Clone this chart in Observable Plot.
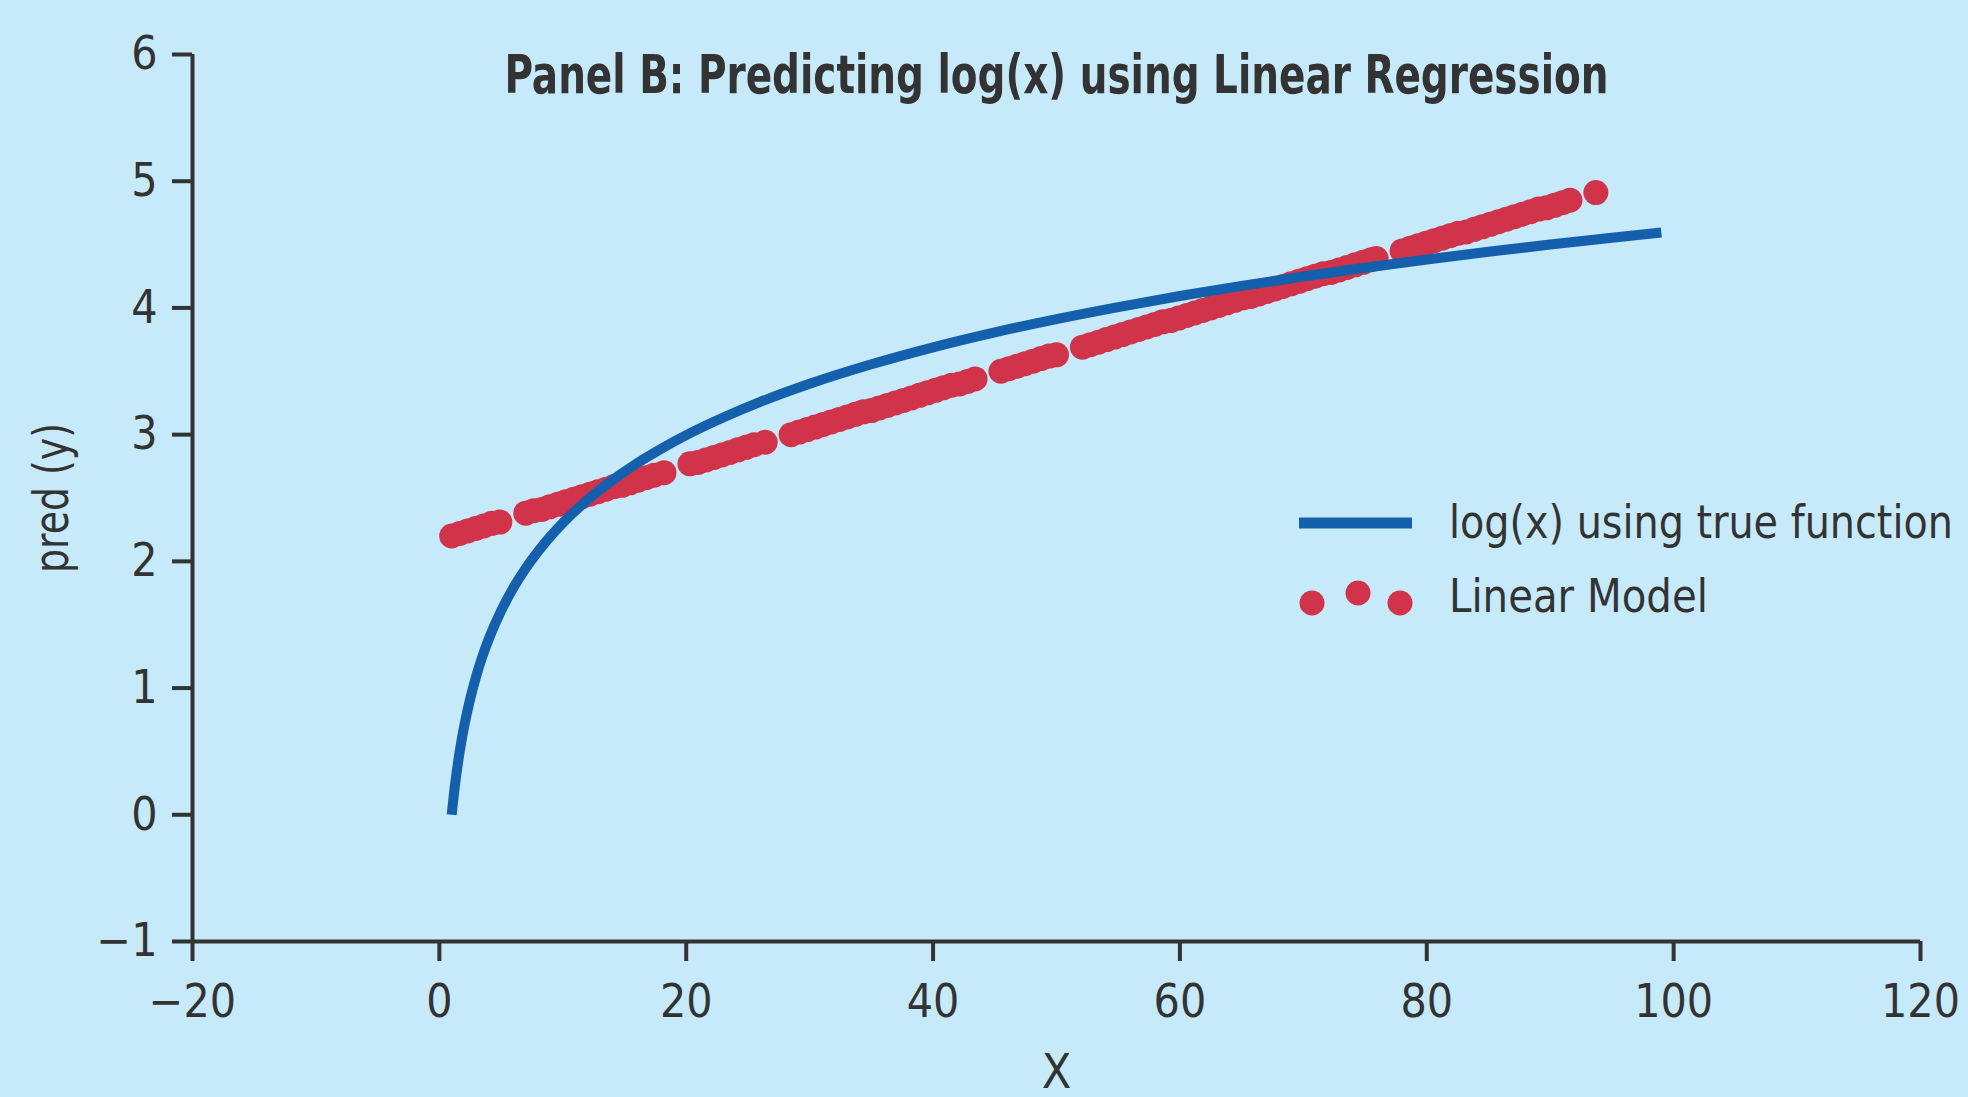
<!DOCTYPE html>
<html>
<head>
<meta charset="utf-8">
<script src="https://cdn.jsdelivr.net/npm/d3@7"></script>
<script src="https://cdn.jsdelivr.net/npm/@observablehq/plot@0.6"></script>
<style>
  html, body { margin: 0; padding: 0; background: #c6eafa; }
  #chart { position: relative; width: 1968px; height: 1097px; overflow: hidden; }
</style>
</head>
<body>
<div id="chart"></div>
<script>
// ---- Data ----
const titleText = "Panel B: Predicting log(x) using Linear Regression";
const xLabel = "X";
const yLabel = "pred (y)";
const xTicks = [-20, 0, 20, 40, 60, 80, 100, 120];
const yTicks = [-1, 0, 1, 2, 3, 4, 5, 6];

// true function curve log(x)
const trueX = [1, 1.1, 1.25, 1.5, 1.75, 2, 2.5, 3, 3.5, 4, 5, 6, 7, 8, 9, 10, 12, 14, 16, 18, 20, 23, 26, 30, 35, 40, 45, 50, 55, 60, 65, 70, 75, 80, 85, 90, 95, 99];
const trueY = [0, 0.095, 0.223, 0.405, 0.560, 0.693, 0.916, 1.099, 1.253, 1.386, 1.609, 1.792, 1.946, 2.079, 2.197, 2.303, 2.485, 2.639, 2.773, 2.890, 2.996, 3.135, 3.258, 3.401, 3.555, 3.689, 3.807, 3.912, 4.007, 4.094, 4.174, 4.248, 4.317, 4.382, 4.443, 4.500, 4.554, 4.595];

// linear model predictions (dots)
const modelX = [
  1, 1.65, 2.3, 2.95, 3.6, 4.25, 4.9,
  7, 7.65, 8.3, 8.95, 9.6, 10.25, 10.9, 11.55, 12.2, 12.85, 13.5, 14.15, 14.8, 15.45, 16.1, 16.75, 17.4, 18.2,
  20.3, 20.95, 21.6, 22.25, 22.9, 23.55, 24.2, 24.85, 25.5, 26.4,
  28.5, 29.15, 29.8, 30.45, 31.1, 31.75, 32.4, 33.05, 33.7, 34.35, 35, 35.65, 36.3, 36.95, 37.6, 38.25, 38.9, 39.55, 40.2, 40.85, 41.5, 42.15, 42.8, 43.4,
  45.5, 46.15, 46.8, 47.45, 48.1, 48.75, 49.4, 50,
  52.1, 52.75, 53.4, 54.05, 54.7, 55.35, 56, 56.65, 57.3, 57.95, 58.6, 59.25, 59.9, 60.55, 61.2, 61.85, 62.5, 63.15, 63.8, 64.45, 65.1, 65.75, 66.4, 67.05, 67.7, 68.35, 69, 69.65, 70.3, 70.95, 71.6, 72.25, 72.9, 73.55, 74.2, 74.85, 75.5, 75.9,
  78, 78.65, 79.3, 79.95, 80.6, 81.25, 81.9, 82.55, 83.2, 83.85, 84.5, 85.15, 85.8, 86.45, 87.1, 87.75, 88.4, 89.05, 89.7, 90.35, 91, 91.6,
  93.7];
const modelY = [
  2.20, 2.22, 2.24, 2.26, 2.28, 2.30, 2.31,
  2.38, 2.40, 2.41, 2.43, 2.45, 2.47, 2.49, 2.51, 2.53, 2.55, 2.57, 2.59, 2.60, 2.62, 2.64, 2.66, 2.68, 2.70,
  2.77, 2.78, 2.80, 2.82, 2.84, 2.86, 2.88, 2.90, 2.92, 2.94,
  3.00, 3.02, 3.04, 3.06, 3.08, 3.10, 3.12, 3.14, 3.16, 3.18, 3.19, 3.21, 3.23, 3.25, 3.27, 3.29, 3.31, 3.33, 3.35, 3.37, 3.39, 3.40, 3.42, 3.44,
  3.50, 3.52, 3.54, 3.56, 3.58, 3.60, 3.62, 3.63,
  3.69, 3.71, 3.73, 3.75, 3.77, 3.79, 3.81, 3.83, 3.85, 3.87, 3.89, 3.90, 3.92, 3.94, 3.96, 3.98, 4.00, 4.02, 4.04, 4.06, 4.08, 4.09, 4.11, 4.13, 4.15, 4.17, 4.19, 4.21, 4.23, 4.25, 4.27, 4.28, 4.30, 4.32, 4.34, 4.36, 4.38, 4.39,
  4.45, 4.47, 4.49, 4.51, 4.53, 4.55, 4.57, 4.59, 4.60, 4.62, 4.64, 4.66, 4.68, 4.70, 4.72, 4.74, 4.76, 4.78, 4.79, 4.81, 4.83, 4.85,
  4.91];

const legendLabels = ["log(x) using true function", "Linear Model"];

// ---- Styles ----
const bg = "#c6eafa";
const ink = "#333333";
const blue = "#1560ad";
const red = "#d0334a";
const font = "'Liberation Sans Narrow', 'DejaVu Sans Condensed', 'Roboto Condensed', sans-serif";

const trueData = trueX.map((x, i) => ({x, y: trueY[i]}));
const modelData = modelX.map((x, i) => ({x, y: modelY[i]}));
const fmt = d3.format("d");

const chart = Plot.plot({
  width: 1968,
  height: 1097,
  marginLeft: 192,
  marginRight: 48,
  marginTop: 54,
  marginBottom: 156,
  style: {background: bg, color: ink, fontFamily: font, fontSize: "46px", overflow: "visible"},
  x: {domain: [-20, 120]},
  y: {domain: [-1, 6]},
  marks: [
    Plot.ruleX([-20], {stroke: ink, strokeWidth: 4}),
    Plot.ruleY([-1], {stroke: ink, strokeWidth: 4}),
    Plot.axisX({ticks: xTicks, tickFormat: fmt, tickSize: 20, tickPadding: 23, strokeWidth: 4, stroke: ink, fill: ink, label: null}),
    Plot.axisY({ticks: yTicks, tickFormat: fmt, tickSize: 20, tickPadding: 15, strokeWidth: 4, stroke: ink, fill: ink, label: null}),
    Plot.dot(modelData, {x: "x", y: "y", r: 12.5, fill: red, stroke: null}),
    Plot.line(trueData, {x: "x", y: "y", stroke: blue, strokeWidth: 10, curve: "monotone-x", strokeLinecap: "butt"}),
    Plot.text([titleText], {text: d => d, frameAnchor: "top", lineAnchor: "top", dy: 0, fontSize: 54, fontWeight: "bold", fill: ink, className: "ttl"}),
    Plot.text([xLabel], {text: d => d, frameAnchor: "bottom", dy: 146, fontSize: 48, fill: ink}),
    Plot.text([yLabel], {text: d => d, frameAnchor: "left", textAnchor: "middle", lineAnchor: "middle", rotate: -90, dx: -140, fontSize: 48, fill: ink, className: "ylab"})
  ]
});

document.getElementById("chart").appendChild(chart);

const svg = d3.select(chart);
function fit(sel, w) {
  sel.attr("textLength", w).attr("lengthAdjust", "spacingAndGlyphs");
}
fit(svg.selectAll("g.ttl text"), 1104);
fit(svg.selectAll("g.ylab text"), 150);

// legend: squeeze text horizontally with a transform so its box is the true drawn box
function squeezed(g, label, x, y, size, w) {
  const t = g.append("text").attr("font-size", size).attr("x", 0).attr("y", 0).text(label);
  const natural = t.node().getComputedTextLength() || w;
  t.attr("transform", `translate(${x},${y}) scale(${w / natural},1)`);
  return t;
}
const lg = svg.append("g").attr("font-family", font).attr("fill", ink).attr("text-anchor", "start");
lg.append("line").attr("x1", 1299).attr("x2", 1412).attr("y1", 523).attr("y2", 523)
  .attr("stroke", blue).attr("stroke-width", 11);
[[1312, 603], [1358, 593], [1400, 603]].forEach(([cx, cy]) => {
  lg.append("circle").attr("cx", cx).attr("cy", cy).attr("r", 12.5).attr("fill", red);
});
squeezed(lg, legendLabels[0], 1449, 538, 46, 504);
squeezed(lg, legendLabels[1], 1449, 612, 46, 259);
</script>
</body>
</html>
